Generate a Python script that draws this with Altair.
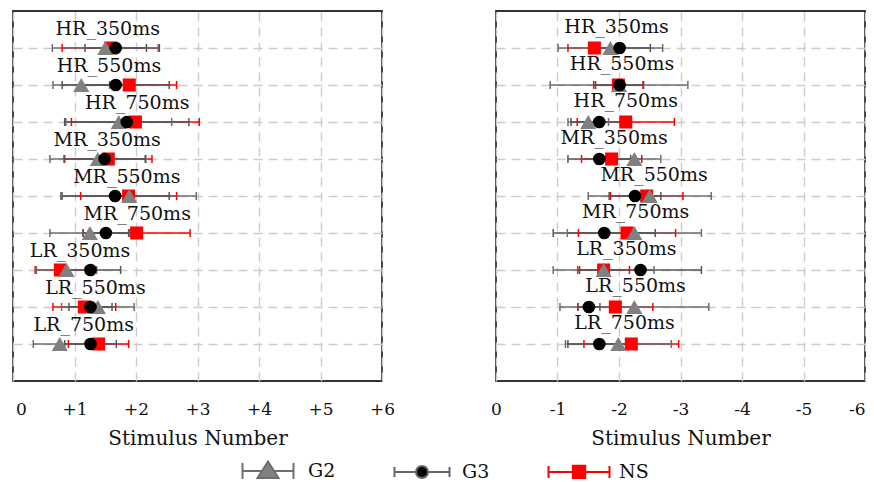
import json
import altair as alt
import pandas as pd

# ---------------- data ----------------
CONDITIONS = ["HR_350ms", "HR_550ms", "HR_750ms",
              "MR_350ms", "MR_550ms", "MR_750ms",
              "LR_350ms", "LR_550ms", "LR_750ms"]
GROUPS = ["G2", "G3", "NS"]

# left panel (positive stimulus numbers)
L_G2_MEAN = [1.50, 1.11, 1.72, 1.38, 1.89, 1.25, 0.87, 1.38, 0.76]
L_G2_ERR = [0.86, 0.46, 0.86, 0.78, 1.09, 0.65, 0.49, 0.59, 0.43]
L_G3_MEAN = [1.67, 1.67, 1.85, 1.49, 1.66, 1.51, 1.26, 1.26, 1.26]
L_G3_ERR = [0.50, 0.87, 1.01, 0.66, 0.88, 0.37, 0.49, 0.35, 0.42]
L_NS_MEAN = [1.59, 1.89, 1.99, 1.55, 1.88, 2.01, 0.77, 1.16, 1.39]
L_NS_ERR = [0.79, 0.77, 1.04, 0.71, 0.78, 0.87, 0.41, 0.51, 0.49]
L_LABEL_X = [1.54, 1.56, 2.02, 1.53, 1.85, 2.02, 1.09, 1.34, 1.15]

# right panel (negative stimulus numbers)
R_G2_MEAN = [-1.86, -2.00, -1.50, -2.25, -2.50, -2.25, -1.75, -2.25, -1.99]
R_G2_ERR = [0.85, 1.12, 0.33, 0.43, 1.00, 1.09, 0.82, 1.21, 0.86]
R_G3_MEAN = [-2.01, -2.01, -1.68, -1.68, -2.26, -1.76, -2.35, -1.51, -1.68]
R_G3_ERR = [0.50, 0.39, 0.46, 0.51, 0.42, 0.83, 0.99, 0.18, 0.51]
R_NS_MEAN = [-1.60, -1.99, -2.11, -1.88, -2.45, -2.13, -1.75, -1.94, -2.20]
R_NS_ERR = [0.43, 0.40, 0.79, 0.49, 0.59, 0.79, 0.42, 0.61, 0.77]
R_LABEL_X = [-1.96, -2.05, -2.11, -1.92, -2.57, -2.27, -2.12, -2.27, -2.09]

L_TICKS = [0, 1, 2, 3, 4, 5, 6]
L_TICK_LABELS = ["0", "+1", "+2", "+3", "+4", "+5", "+6"]
R_TICKS = [0, -1, -2, -3, -4, -5, -6]
R_TICK_LABELS = ["0", "-1", "-2", "-3", "-4", "-5", "-6"]
X_TITLE = "Stimulus Number"

# ---------------- styles ----------------
DRAW_ORDER = ["NS", "G2", "G3"]
MARKER_SHAPE = {"G2": "triangle-up", "G3": "circle", "NS": "square"}
MARKER_SIZE = {"G2": 260, "G3": 160, "NS": 170}
MARKER_COLOR = {"G2": "#808080", "G3": "#000000", "NS": "#ff0000"}
BAR_COLOR = {"G2": "#6e6e6e", "G3": "#555555", "NS": "#ff0000"}

LEGEND_FILL = ["#808080", "#000000", "#ff0000"]
LEGEND_STROKE = ["#6e6e6e", "#666666", "#ff0000"]
LEGEND_PATHS = [
    "M-2.55,-0.8V0.8M-2.55,0H-0.59M0.59,0H2.55M2.55,-0.8V0.8"
    "M0,-0.95L1.05,0.7L-1.05,0.7Z",
    "M-2.75,-0.5V0.5M-2.75,0H-0.65M0.65,0H2.75M2.75,-0.5V0.5"
    "M0.6,0A0.6,0.6,0,1,1,-0.6,0A0.6,0.6,0,1,1,0.6,0Z",
    "M-3.05,-0.6V0.6M-3.05,0H-0.65M0.65,0H3.05M3.05,-0.6V0.6"
    "M-0.62,-0.62H0.62V0.62H-0.62Z",
]

FONT = "DejaVu Serif"
TEXT_COLOR = "#111111"


def build_df(means, errs):
    rows = []
    for g in DRAW_ORDER:
        for c, m, e in zip(CONDITIONS, means[g], errs[g]):
            rows.append({"cond": c, "group": g, "mean": m, "err": e,
                         "shape": MARKER_SHAPE[g], "size": MARKER_SIZE[g],
                         "color": MARKER_COLOR[g], "barcolor": BAR_COLOR[g]})
    return pd.DataFrame(rows)


left_df = build_df({"G2": L_G2_MEAN, "G3": L_G3_MEAN, "NS": L_NS_MEAN},
                   {"G2": L_G2_ERR, "G3": L_G3_ERR, "NS": L_NS_ERR})
right_df = build_df({"G2": R_G2_MEAN, "G3": R_G3_MEAN, "NS": R_NS_MEAN},
                    {"G2": R_G2_ERR, "G3": R_G3_ERR, "NS": R_NS_ERR})
left_labels = pd.DataFrame({"cond": CONDITIONS, "lx": L_LABEL_X})
right_labels = pd.DataFrame({"cond": CONDITIONS, "lx": R_LABEL_X})


def panel(df, labels_df, domain, ticks, tick_labels, label_expr_index,
          label_offset, label_align, label_dy, legend=False):
    y = alt.Y("cond:N", sort=CONDITIONS,
              scale=alt.Scale(type="point", padding=1),
              axis=alt.Axis(title=None, labels=False, ticks=False,
                            domain=False, grid=True))
    x_axis = alt.Axis(values=ticks, title=X_TITLE, grid=True, ticks=False,
                      tickSize=0, domain=False, labelPadding=20,
                      labelFlush=False, titlePadding=11,
                      labelOffset=label_offset, labelAlign=label_align,
                      labelExpr=f"{json.dumps(tick_labels)}[{label_expr_index}]")
    x_scale = alt.Scale(domain=domain, nice=False, zero=False)

    def X(field):
        return alt.X(field, type="quantitative", scale=x_scale, axis=x_axis)

    base = alt.Chart(df).transform_calculate(
        lo="datum.mean - datum.err", hi="datum.mean + datum.err")
    bar_color = alt.Color("barcolor:N", scale=None)
    bars = base.mark_rule(strokeWidth=1.5).encode(
        x=X("lo"), x2="hi:Q", y=y, color=bar_color)
    caps_lo = base.mark_tick(size=8, thickness=1.5, opacity=1).encode(
        x=X("lo"), y=y, color=bar_color)
    caps_hi = base.mark_tick(size=8, thickness=1.5, opacity=1).encode(
        x=X("hi"), y=y, color=bar_color)
    points = alt.Chart(df).mark_point(filled=True, opacity=1, strokeWidth=0).encode(
        x=X("mean"), y=y,
        shape=alt.Shape("shape:N", scale=None),
        size=alt.Size("size:Q", scale=None),
        color=alt.Color("color:N", scale=None))
    texts = alt.Chart(labels_df).mark_text(
        font=FONT, fontSize=19, dy=label_dy, baseline="middle",
        color=TEXT_COLOR).encode(x=X("lx"), y=y, text="cond:N")
    layers = [bars, caps_lo, caps_hi, points, texts]
    if legend:
        leg = alt.Legend(title=None, orient="none", legendX=244, legendY=449,
                         direction="horizontal", columns=3, symbolSize=400,
                         symbolStrokeWidth=2, symbolOpacity=1, labelOffset=29,
                         columnPadding=54, labelFont=FONT, labelFontSize=19,
                         labelColor=TEXT_COLOR, padding=0)
        lg = alt.Chart(pd.DataFrame({"group": GROUPS})).transform_filter(
            "false").mark_point(filled=True, opacity=1, size=400).encode(
            fill=alt.Fill("group:N", scale=alt.Scale(domain=GROUPS, range=LEGEND_FILL), legend=leg),
            stroke=alt.Stroke("group:N", scale=alt.Scale(domain=GROUPS, range=LEGEND_STROKE), legend=leg),
            shape=alt.Shape("group:N", scale=alt.Scale(domain=GROUPS, range=LEGEND_PATHS), legend=leg),
        )
        layers.append(lg)
    return alt.layer(*layers).properties(width=369, height=370)


left = panel(left_df, left_labels, [0, 6], L_TICKS, L_TICK_LABELS,
             "datum.value",
             {"condition": {"test": "datum.value === 0", "value": 8}, "value": 0},
             "center", -19, legend=True)
right = panel(right_df, right_labels, [0, -6], R_TICKS, R_TICK_LABELS,
              "-datum.value", 0,
              {"condition": {"test": "datum.value === -6", "value": "right"}, "value": "center"},
              -21)

chart = alt.hconcat(left, right, spacing=114, bounds="flush").properties(
    padding={"left": 4, "top": 2, "right": 0, "bottom": 0}
).configure_view(
    stroke="#333333", strokeWidth=1.8
).configure_axis(
    gridColor="#cccccc", gridDash=[9, 6], gridWidth=1.4,
    labelFont=FONT, labelFontSize=17, labelColor=TEXT_COLOR,
    titleFont=FONT, titleFontSize=20, titleFontWeight="normal",
    titleColor=TEXT_COLOR
)

chart.save("out.html", embed_options={"renderer": "svg", "actions": False})
